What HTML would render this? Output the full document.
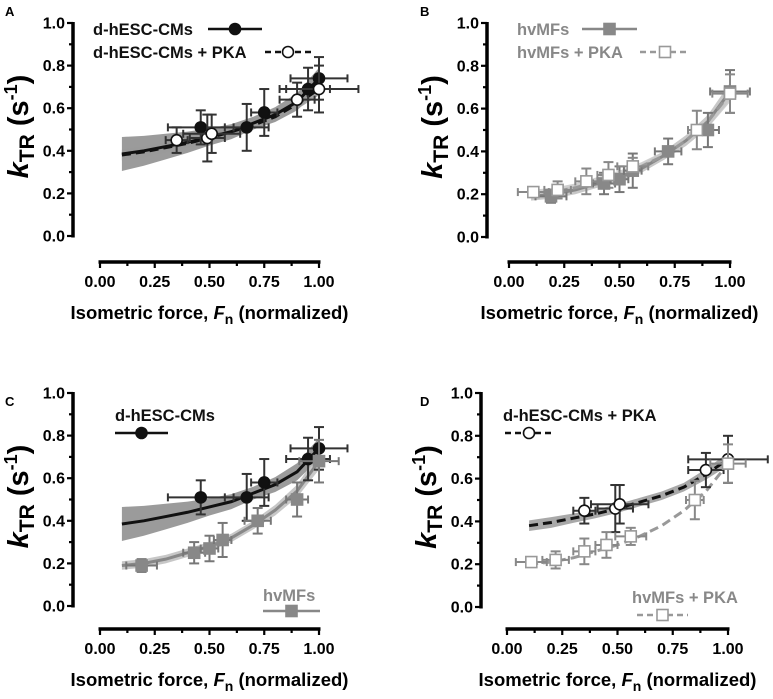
<!DOCTYPE html>
<html><head><meta charset="utf-8"><style>
html,body{margin:0;padding:0;background:#fff;}
svg{display:block;font-family:"Liberation Sans",Arial,sans-serif;font-weight:bold;}
</style></head><body>
<svg id="fig" width="773" height="699" viewBox="0 0 773 699" xmlns="http://www.w3.org/2000/svg"></svg>
<script>
// ---- data ----
const fitX = [0.1,0.2,0.3,0.4,0.5,0.6,0.7,0.8,0.9,1.0];
const cmFit = [0.385,0.40,0.42,0.44,0.465,0.49,0.53,0.57,0.63,0.74];
const cmBand = [0.08,0.07,0.06,0.05,0.04,0.035,0.03,0.035,0.04,0.05];
const cmPkaFit = [0.38,0.395,0.415,0.435,0.46,0.49,0.52,0.56,0.62,0.69];
const cmPkaBand = [0.025,0.025,0.022,0.02,0.02,0.02,0.02,0.02,0.025,0.03];
const mfFit = [0.19,0.20,0.22,0.25,0.28,0.32,0.38,0.45,0.54,0.68];
const mfBand = [0.02,0.02,0.02,0.02,0.02,0.02,0.02,0.025,0.03,0.04];
const mfPkaFit = [0.20,0.21,0.23,0.26,0.29,0.33,0.38,0.45,0.54,0.67];

const cmX = [0.46,0.67,0.75,0.95,1.0];
const cmY = [0.51,0.51,0.58,0.69,0.74];
const cmXe = [0.15,0.10,0.06,0.10,0.13];
const cmYe = [0.08,0.11,0.11,0.10,0.10];
const cmPkaX = [0.35,0.49,0.51,0.90,1.0];
const cmPkaY = [0.45,0.46,0.48,0.64,0.69];
const cmPkaXe = [0.05,0.08,0.13,0.08,0.18];
const cmPkaYe = [0.06,0.11,0.09,0.08,0.11];
const mfX = [0.19,0.43,0.50,0.56,0.72,0.90,1.0];
const mfY = [0.19,0.25,0.27,0.31,0.40,0.50,0.68];
const mfXe = [0.07,0.05,0.04,0.04,0.06,0.05,0.09];
const mfYe = [0.03,0.05,0.06,0.08,0.06,0.08,0.10];
const mfPkaX = [0.11,0.22,0.35,0.45,0.56,0.85,1.0];
const mfPkaY = [0.21,0.22,0.26,0.29,0.33,0.50,0.67];
const mfPkaXe = [0.07,0.06,0.05,0.05,0.07,0.04,0.08];
const mfPkaYe = [0.02,0.04,0.06,0.06,0.04,0.09,0.09];
const yTicks = [0.0,0.2,0.4,0.6,0.8,1.0];
const xTicks = [0.00,0.25,0.50,0.75,1.00];

const NS = "http://www.w3.org/2000/svg";
const svg = document.getElementById('fig');
function el(tag, attrs, parent, text){
  const e = document.createElementNS(NS, tag);
  for (const k in attrs) e.setAttribute(k, attrs[k]);
  if (text !== undefined) e.textContent = text;
  (parent||svg).appendChild(e);
  return e;
}

const series = {
  cm: {x:cmX,y:cmY,xe:cmXe,ye:cmYe,fit:cmFit,band:cmBand,col:'#111',err:'#333',sym:'circle',fill:'#111',dash:null,bandCol:'#8a8a8a'},
  cmPka: {x:cmPkaX,y:cmPkaY,xe:cmPkaXe,ye:cmPkaYe,fit:cmPkaFit,band:cmPkaBand,col:'#111',err:'#333',sym:'circle',fill:'#fff',dash:'9,5',bandCol:'#9a9a9a'},
  mf: {x:mfX,y:mfY,xe:mfXe,ye:mfYe,fit:mfFit,band:mfBand,col:'#888',err:'#777',sym:'square',fill:'#888',dash:null,bandCol:'#bdbdbd'},
  mfPka: {x:mfPkaX,y:mfPkaY,xe:mfPkaXe,ye:mfPkaYe,fit:mfPkaFit,band:mfBand,col:'#999',err:'#888',sym:'square',fill:'#fff',dash:'9,5',bandCol:'#c8c8c8'}
};

const panels = [
  {id:'a',letter:'A',lx:5,ly:16,yAxX:73,y1:23,y0:236,xAxY:262,x0:100,x1:319,series:['cm','cmPka'],bands:['cm','cmPka'],
   legend:[{text:'d-hESC-CMs',tx:93,ty:35,s:'cm',sx:208,sy:29,sw:54},{text:'d-hESC-CMs + PKA',tx:93,ty:58,s:'cmPka',sx:265,sy:52,sw:46}]},
  {id:'b',letter:'B',lx:420,ly:16,yAxX:487,y1:23,y0:237,xAxY:262,x0:509,x1:730,series:['mf','mfPka'],bands:['mf','mfPka'],
   legend:[{text:'hvMFs',tx:517,ty:35,s:'mf',sx:582,sy:29,sw:55},{text:'hvMFs + PKA',tx:517,ty:58,s:'mfPka',sx:640,sy:52,sw:50}]},
  {id:'c',letter:'C',lx:5,ly:406,yAxX:73,y1:393,y0:606,xAxY:629,x0:100,x1:319,series:['cm','mf'],bands:['cm','mf'],
   legend:[{text:'d-hESC-CMs',tx:115,ty:421,s:'cm',sx:115,sy:433,sw:53},{text:'hvMFs',tx:263,ty:601,s:'mf',sx:263,sy:611,sw:57}]},
  {id:'d',letter:'D',lx:420,ly:406,yAxX:481,y1:393,y0:607,xAxY:629,x0:507,x1:728,series:['cmPka','mfPka'],bands:['cmPka'],
   legend:[{text:'d-hESC-CMs + PKA',tx:503,ty:421,s:'cmPka',sx:505,sy:433,sw:48},{text:'hvMFs + PKA',tx:632,ty:603,s:'mfPka',sx:637,sy:615,sw:51}]}
];

function symbol(g, s, cx, cy, r){
  const st = series[s];
  let m;
  if (st.sym==='circle') m = el('circle',{cx:cx,cy:cy,r:r,fill:st.fill,stroke:st.col,'stroke-width':1.6},g);
  else m = el('rect',{x:cx-r,y:cy-r,width:2*r,height:2*r,fill:st.fill,stroke:st.col,'stroke-width':1.6},g);
  return m;
}

panels.forEach(p=>{
  const g = el('g',{});
  
  
  const X = v => p.x0 + v*(p.x1-p.x0);
  const Y = v => p.y0 + v*(p.y1-p.y0);
  const lt = el('text',{x:p.lx,y:p.ly,'font-size':13,fill:'#000'},g,p.letter);
  
  
  // y axis
  const ya = el('line',{x1:p.yAxX,y1:p.y1-1,x2:p.yAxX,y2:p.y0+1.5,stroke:'#000','stroke-width':3.5},g);
  
  
  for (let i=0;i<=10;i++){
    const yy = Y(i/10);
    el('line',{x1:p.yAxX-(i%2===0?6:4),y1:yy,x2:p.yAxX,y2:yy,stroke:'#000','stroke-width':2.2},g);
  }
  yTicks.forEach(v=>{
    const t = el('text',{x:p.yAxX-8,y:Y(v)+5.5,'text-anchor':'end','font-size':16,fill:'#000'},g,v.toFixed(1));
    
    
  });
  // y title
  const cy = (p.y1+p.y0)/2 - 3;
  const yt = el('text',{transform:`translate(${p.yAxX-45},${cy}) rotate(-90)`,'text-anchor':'middle','font-size':29,fill:'#000'},g);
  
  
  el('tspan',{'font-style':'italic'},yt,'k');
  el('tspan',{'font-size':21,dy:6},yt,'TR');
  el('tspan',{dy:-6},yt,' (s');
  el('tspan',{'font-size':18,dy:-11},yt,'-1');
  el('tspan',{dy:11},yt,')');
  // x axis
  const xa = el('line',{x1:X(0)-1.5,y1:p.xAxY,x2:X(1)+1.5,y2:p.xAxY,stroke:'#000','stroke-width':3.5},g);
  
  
  for (let i=0;i<=8;i++){
    const xx = X(i/8);
    el('line',{x1:xx,y1:p.xAxY,x2:xx,y2:p.xAxY+(i%2===0?6:4),stroke:'#000','stroke-width':2.2},g);
  }
  xTicks.forEach(v=>{
    const t = el('text',{x:X(v),y:p.xAxY+25,'text-anchor':'middle','font-size':16,fill:'#000'},g,v.toFixed(2));
    
    
  });
  const xt = el('text',{x:X(0.5),y:p.xAxY+57,'text-anchor':'middle','font-size':18.5,fill:'#000'},g);
  
  
  el('tspan',{},xt,'Isometric force, ');
  el('tspan',{'font-style':'italic'},xt,'F');
  el('tspan',{'font-size':14,dy:5},xt,'n');
  el('tspan',{dy:-5},xt,' (normalized)');
  // bands
  p.bands.forEach(s=>{
    const st = series[s];
    let up = fitX.map((x,i)=>X(x)+','+Y(st.fit[i]+st.band[i]));
    let dn = fitX.map((x,i)=>X(x)+','+Y(st.fit[i]-st.band[i])).reverse();
    const b = el('polygon',{points:up.concat(dn).join(' '),fill:st.bandCol,opacity:0.85},g);
    
    
  });
  // fits
  p.series.forEach(s=>{
    const st = series[s];
    const pts = fitX.map((x,i)=>X(x)+','+Y(st.fit[i])).join(' ');
    const a = {points:pts,fill:'none',stroke:st.col,'stroke-width':3};
    if (st.dash) a['stroke-dasharray']=st.dash;
    const f = el('polyline',a,g);
    
    
  });
  // points
  p.series.forEach(s=>{
    const st = series[s];
    st.x.forEach((xv,i)=>{
      const yv = st.y[i];
      const eg = el('g',{stroke:st.err,'stroke-width':2},g);
      
      
      const xl=X(xv-st.xe[i]), xr=X(xv+st.xe[i]), yt2=Y(yv+st.ye[i]), yb=Y(yv-st.ye[i]), px=X(xv), py=Y(yv);
      el('line',{x1:xl,y1:py,x2:xr,y2:py},eg);
      el('line',{x1:xl,y1:py-4,x2:xl,y2:py+4},eg);
      el('line',{x1:xr,y1:py-4,x2:xr,y2:py+4},eg);
      el('line',{x1:px,y1:yt2,x2:px,y2:yb},eg);
      el('line',{x1:px-5,y1:yt2,x2:px+5,y2:yt2},eg);
      el('line',{x1:px-5,y1:yb,x2:px+5,y2:yb},eg);
      const m = symbol(g,s,px,py,5.5);
      
      
    });
  });
  // legend
  p.legend.forEach(l=>{
    const st = series[l.s];
    const lg = el('g',{},g);
    
    
    el('text',{x:l.tx,y:l.ty,'font-size':16.5,fill:st.col==='#111'?'#111':'#888'},lg,l.text);
    const a = {x1:l.sx,y1:l.sy,x2:l.sx+l.sw,y2:l.sy,stroke:st.col,'stroke-width':2.5};
    if (st.dash) a['stroke-dasharray']='6,4';
    el('line',a,lg);
    symbol(lg,l.s,l.sx+l.sw/2,l.sy,5.5);
  });
});
</script>
</body></html>
